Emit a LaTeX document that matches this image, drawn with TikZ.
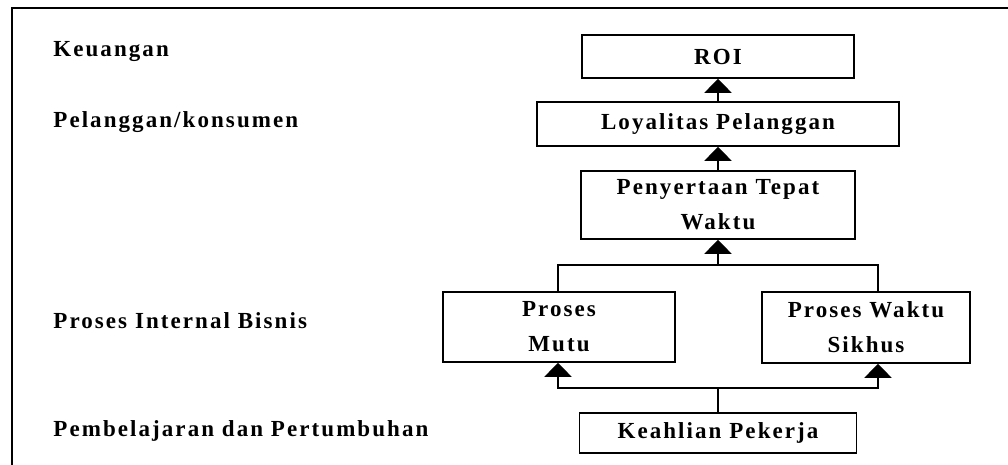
\documentclass[tikz,border=0pt]{standalone}
\usepackage{fontspec}
\usepackage{tikz}
\usetikzlibrary{arrows.meta}
\newfontfamily\bscfont{Liberation Serif}[LetterSpace=9]
\tikzstyle{box}=[rectangle,draw=black,line width=0.8pt,inner sep=2pt,
  align=center,font=\bscfont\bfseries\fontsize{11.5}{14}\selectfont]
\tikzstyle{persp}=[anchor=west,inner sep=0pt,
  font=\bscfont\bfseries\fontsize{11.5}{14}\selectfont]
\tikzstyle{wire}=[line width=1pt]
\tikzstyle{arr}=[line width=1pt,-{Triangle[width=13.5pt,length=7pt]}]

\begin{document}
\begin{tikzpicture}[x=0.5pt,y=-0.5pt]
    \useasboundingbox (0,0) rectangle (1008,465);
    % frame
    \draw [line width=0.9pt] (12,465) -- (12,8) -- (1008,8);
    % perspectives
    \node [style=persp] (keu) at (53,52) {Keuangan};
    \node [style=persp] (pel) at (53,122) {Pelanggan/konsumen};
    \node [style=persp] (pib) at (53,321) {Proses Internal Bisnis};
    \node [style=persp] (pdp) at (53,431) {Pembelajaran dan Pertumbuhan};
    % measures
    \node [style=box,minimum width=136pt,minimum height=21.5pt] (roi) at (718,56.5) {ROI};
    \node [style=box,minimum width=181pt,minimum height=22pt] (loyal) at (718,124) {Loyalitas Pelanggan};
    \node [style=box,minimum width=137pt,minimum height=34pt] (tepat) at (718,205) {Penyertaan Tepat\\[3.5pt]Waktu};
    \node [style=box,minimum width=116pt,minimum height=35pt] (mutu) at (559,327) {Proses\\[3.5pt]Mutu};
    \node [style=box,minimum width=104pt,minimum height=35.5pt] (siklus) at (866,327.5) {Proses Waktu\\[3.5pt]Sikhus};
    \node [style=box,minimum width=138.5pt,minimum height=20pt] (ahli) at (718,433) {Keahlian Pekerja};
    \coordinate (topl) at (558,265);
    \coordinate (topm) at (718,265);
    \coordinate (topr) at (878,265);
    \coordinate (botl) at (558,388);
    \coordinate (botm) at (718,388);
    \coordinate (botr) at (878,388);
    \draw [style=arr] (loyal) to (roi);
    \draw [style=arr] (tepat) to (loyal);
    \draw [style=wire] (mutu.north -| topl) to (topl) to (topr) to (siklus.north -| topr);
    \draw [style=arr] (topm) to (tepat);
    \draw [style=wire] (ahli) to (botm);
    \draw [style=arr] (botm) -- (botl) -- (mutu.south -| botl);
    \draw [style=arr] (botm) -- (botr) -- (siklus.south -| botr);
  \end{tikzpicture}
\end{document}
